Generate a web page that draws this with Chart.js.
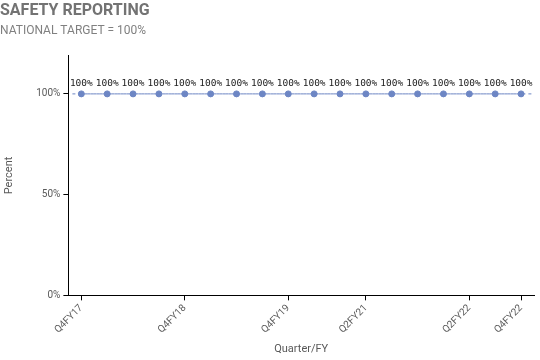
<!DOCTYPE html>
<html>
<head>
<meta charset="utf-8">
<script src="https://cdn.jsdelivr.net/npm/chart.js@4/dist/chart.umd.min.js"></script>
<style>
  html, body { margin: 0; padding: 0; background: #fff; }
</style>
</head>
<body>
<canvas id="chart" width="540" height="360"></canvas>
<script>
// quarters on the x axis
var quarters = ["Q4FY17", "Q1FY18", "Q2FY18", "Q3FY18", "Q4FY18", "Q1FY19", "Q2FY19", "Q3FY19", "Q4FY19",
  "Q4FY20", "Q1FY21", "Q2FY21", "Q3FY21", "Q4FY21", "Q1FY22", "Q2FY22", "Q3FY22", "Q4FY22"];
// percent of safety reports
var reported = [100, 100, 100, 100, 100, 100, 100, 100, 100, 100, 100, 100, 100, 100, 100, 100, 100, 100];
// only these quarters get a tick label
var shownQuarters = ["Q4FY17", "Q4FY18", "Q4FY19", "Q2FY21", "Q2FY22", "Q4FY22"];
var yTicks = [0, 50, 100];
var target = 100;

var blue = "#6d86c4";
var grey = "#595959";

function isShown(i) {
  return shownQuarters.indexOf(quarters[i]) >= 0;
}

// dashed national target line + value labels above points
var extras = {
  id: "extras",
  beforeDatasetsDraw: function (chart) {
    var ctx = chart.ctx, a = chart.chartArea;
    var y = chart.scales.y.getPixelForValue(target);
    ctx.save();
    ctx.strokeStyle = blue;
    ctx.lineWidth = 1;
    ctx.setLineDash([3, 3]);
    ctx.beginPath();
    ctx.moveTo(a.left + 4, y);
    ctx.lineTo(a.right, y);
    ctx.stroke();
    ctx.restore();
  },
  afterDatasetsDraw: function (chart) {
    var ctx = chart.ctx;
    var meta = chart.getDatasetMeta(0);
    ctx.save();
    ctx.font = "9.5px 'DejaVu Sans Mono'";
    ctx.fillStyle = "#222";
    ctx.textAlign = "center";
    ctx.textBaseline = "bottom";
    meta.data.forEach(function (pt, i) {
      ctx.fillText(reported[i] + "%", pt.x, pt.y - 6);
    });
    ctx.restore();
  }
};

new Chart("chart", {
  type: "line",
  data: {
    labels: quarters,
    datasets: [{
      label: "Safety reporting",
      data: reported,
      borderColor: blue,
      backgroundColor: blue,
      borderWidth: 1,
      borderDash: [3, 3],
      pointRadius: 3,
      pointHoverRadius: 3,
      fill: false
    }]
  },
  plugins: [extras],
  options: {
    responsive: false,
    animation: false,
    layout: { padding: { left: 0, right: 6, top: 0, bottom: 4 } },
    plugins: {
      legend: { display: false },
      tooltip: { enabled: false },
      title: {
        display: true,
        text: "SAFETY REPORTING",
        align: "start",
        color: "#737373",
        font: { family: "Roboto", size: 16, weight: "bold" },
        padding: { top: 1, bottom: 4 }
      },
      subtitle: {
        display: true,
        text: "NATIONAL TARGET = 100%",
        align: "start",
        color: "#808080",
        font: { family: "Roboto", size: 12 },
        padding: { top: 0, bottom: 17 }
      }
    },
    scales: {
      x: {
        offset: true,
        grid: {
          display: true,
          drawOnChartArea: false,
          tickLength: 5,
          color: function (c) { return isShown(c.index) ? "#000" : "rgba(0,0,0,0)"; }
        },
        border: { display: true, color: "#000", width: 1 },
        ticks: {
          autoSkip: false,
          maxRotation: 45,
          minRotation: 45,
          color: grey,
          font: { family: "Roboto", size: 10 },
          padding: 2,
          callback: function (v, i) {
            return isShown(i) ? quarters[i] : "";
          }
        },
        title: {
          display: true,
          text: "Quarter/FY",
          color: grey,
          font: { family: "Roboto", size: 11 },
          padding: { top: 5, bottom: 0 }
        }
      },
      y: {
        min: 0,
        max: 119,
        afterBuildTicks: function (axis) {
          axis.ticks = yTicks.map(function (v) { return { value: v }; });
        },
        grid: { display: true, drawOnChartArea: false, tickLength: 5, color: "#000" },
        border: { display: true, color: "#000", width: 1 },
        ticks: {
          color: grey,
          font: { family: "Roboto", size: 10 },
          padding: 3,
          callback: function (v) { return v + "%"; }
        },
        title: {
          display: true,
          text: "Percent",
          color: grey,
          font: { family: "Roboto", size: 11 },
          padding: { top: 3, bottom: 17 }
        }
      }
    }
  }
});
</script>
</body>
</html>
